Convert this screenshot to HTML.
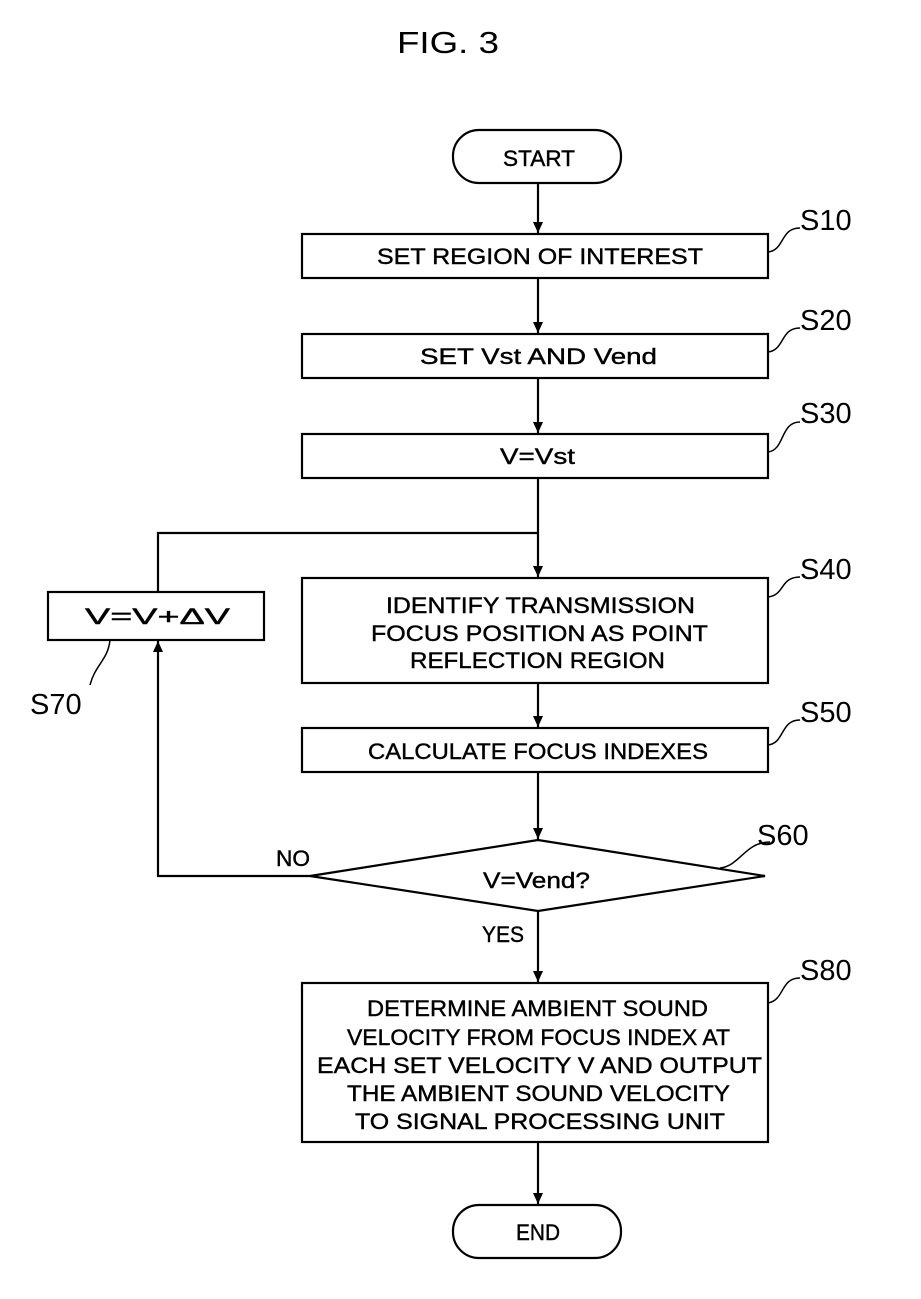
<!DOCTYPE html>
<html><head><meta charset="utf-8"><style>
html,body{margin:0;padding:0;background:#fff;}
svg{display:block;}
text{font-family:"Liberation Sans",sans-serif;fill:#000;}
.t{font-size:22px;stroke:#000;stroke-width:0.4px;}
.l{font-size:29px;}
</style></head><body>
<svg width="921" height="1299" viewBox="0 0 921 1299" xmlns="http://www.w3.org/2000/svg">
<defs><marker id="a" markerWidth="12" markerHeight="10" refX="11" refY="5" orient="auto" markerUnits="userSpaceOnUse"><path d="M0,0 L11,5 L0,10 Z" fill="#000"/></marker></defs>
<g stroke="#000" stroke-width="2.2" fill="none">
<text x="448" y="53" text-anchor="middle" style="font-size:31px" stroke="none" fill="#000" textLength="102" lengthAdjust="spacingAndGlyphs">FIG. 3</text>
<rect x="453" y="130" width="168" height="53" rx="26"/>
<rect x="453" y="1205" width="168" height="53" rx="26"/>
<rect x="302" y="234" width="466" height="44"/>
<rect x="302" y="334" width="466" height="44"/>
<rect x="302" y="434" width="466" height="44"/>
<rect x="302" y="578" width="466" height="105"/>
<rect x="302" y="728" width="466" height="44"/>
<rect x="302" y="983" width="466" height="159"/>
<rect x="48" y="592" width="216" height="48"/>
<polygon points="310,876 538,840 765,876 538,911"/>
<path d="M538 183 V233" marker-end="url(#a)"/>
<path d="M538 278 V333" marker-end="url(#a)"/>
<path d="M538 378 V433" marker-end="url(#a)"/>
<path d="M538 478 V577" marker-end="url(#a)"/>
<path d="M158 592 V533 H538" />
<path d="M538 683 V727" marker-end="url(#a)"/>
<path d="M538 772 V839" marker-end="url(#a)"/>
<path d="M538 911 V982" marker-end="url(#a)"/>
<path d="M538 1142 V1204" marker-end="url(#a)"/>
<path d="M310 876 H158 V641" marker-end="url(#a)"/>
<path d="M768 252 C785 250,780 228,800 228" stroke-width="1.5"/>
<path d="M768 352 C785 350,780 328,800 328" stroke-width="1.5"/>
<path d="M768 452 C785 450,780 422,800 422" stroke-width="1.5"/>
<path d="M768 597 C785 595,780 577,800 577" stroke-width="1.5"/>
<path d="M768 745 C785 743,780 720,800 720" stroke-width="1.5"/>
<path d="M720 868 C740 866,745 842,770 842" stroke-width="1.5"/>
<path d="M768 1003 C785 1000,780 978,800 978" stroke-width="1.5"/>
<path d="M110 640 C108 660,95 665,90 685" stroke-width="1.5"/>
</g>
<text class="t" x="503" y="166" textLength="72" lengthAdjust="spacingAndGlyphs">START</text>
<text class="t" x="516" y="1240" textLength="44" lengthAdjust="spacingAndGlyphs">END</text>
<text class="t" x="377" y="264" textLength="326" lengthAdjust="spacingAndGlyphs">SET REGION OF INTEREST</text>
<text class="t" x="420" y="364" textLength="237" lengthAdjust="spacingAndGlyphs">SET Vst AND Vend</text>
<text class="t" x="500" y="464" textLength="75" lengthAdjust="spacingAndGlyphs">V=Vst</text>
<text class="t" x="386" y="613" textLength="309" lengthAdjust="spacingAndGlyphs">IDENTIFY TRANSMISSION</text>
<text class="t" x="371" y="641" textLength="337" lengthAdjust="spacingAndGlyphs">FOCUS POSITION AS POINT</text>
<text class="t" x="410" y="668" textLength="255" lengthAdjust="spacingAndGlyphs">REFLECTION REGION</text>
<text class="t" x="368" y="759" textLength="340" lengthAdjust="spacingAndGlyphs">CALCULATE FOCUS INDEXES</text>
<text class="t" x="483" y="888" textLength="107" lengthAdjust="spacingAndGlyphs">V=Vend?</text>
<text class="t" x="85" y="624" textLength="145" lengthAdjust="spacingAndGlyphs">V=V+ΔV</text>
<text class="t" x="276" y="866" textLength="34" lengthAdjust="spacingAndGlyphs">NO</text>
<text class="t" x="482" y="942" textLength="42" lengthAdjust="spacingAndGlyphs">YES</text>
<text class="t" x="367" y="1016" textLength="341" lengthAdjust="spacingAndGlyphs">DETERMINE AMBIENT SOUND</text>
<text class="t" x="347" y="1045" textLength="383" lengthAdjust="spacingAndGlyphs">VELOCITY FROM FOCUS INDEX AT</text>
<text class="t" x="317" y="1073" textLength="445" lengthAdjust="spacingAndGlyphs">EACH SET VELOCITY V AND OUTPUT</text>
<text class="t" x="347" y="1101" textLength="383" lengthAdjust="spacingAndGlyphs">THE AMBIENT SOUND VELOCITY</text>
<text class="t" x="355" y="1129" textLength="370" lengthAdjust="spacingAndGlyphs">TO SIGNAL PROCESSING UNIT</text>
<text class="l" x="800" y="230">S10</text>
<text class="l" x="800" y="330">S20</text>
<text class="l" x="800" y="423">S30</text>
<text class="l" x="800" y="579">S40</text>
<text class="l" x="800" y="722">S50</text>
<text class="l" x="757" y="845">S60</text>
<text class="l" x="800" y="980">S80</text>
<text class="l" x="30" y="714">S70</text>
</svg>
</body></html>
